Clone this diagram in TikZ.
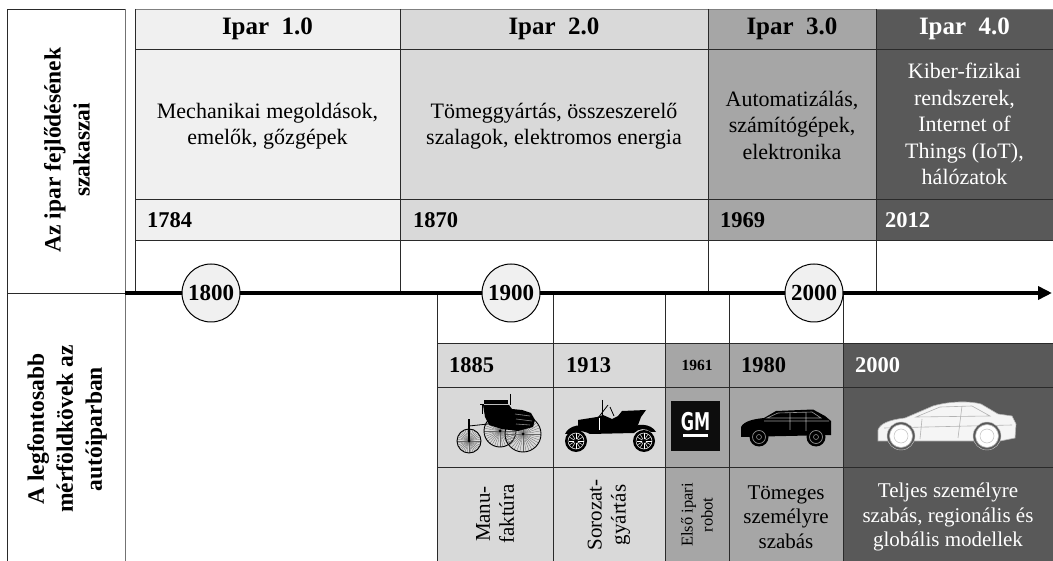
\documentclass[tikz,border=0pt]{standalone}
\usepackage{fontspec}
\setmainfont{Liberation Serif}
\newfontfamily\gmfont[FakeStretch=0.66]{DejaVu Sans}
\usetikzlibrary{arrows.meta}

\definecolor{g1}{HTML}{F0F0F0}
\definecolor{g2}{HTML}{D9D9D9}
\definecolor{g3}{HTML}{A6A6A6}
\definecolor{g4}{HTML}{595959}
\definecolor{rulec}{HTML}{2A2A2A}

\tikzset{
  gridline/.style={draw=rulec, line width=0.8pt},
  hd/.style={font=\fontsize{25}{30}\selectfont\bfseries, inner sep=0pt},
  ds/.style={font=\fontsize{22}{26.5}\selectfont, align=center, inner sep=0pt},
  yr/.style={font=\fontsize{22.5}{26}\selectfont\bfseries, anchor=west, inner sep=0pt},
  side/.style={font=\fontsize{23.5}{29}\selectfont\bfseries, align=center, rotate=90, inner sep=0pt},
  era/.style={circle, draw=black, line width=1pt, fill=g1, minimum size=58pt, inner sep=0pt,
              font=\fontsize{23}{26}\selectfont\bfseries},
  bt/.style={font=\fontsize{21}{24.5}\selectfont, align=center, inner sep=0pt},
  vt/.style={font=\fontsize{21}{24}\selectfont, align=center, rotate=90, inner sep=0pt},
  spoke/.style={line width=0.3pt},
}

\begin{document}
\begin{tikzpicture}[x=1pt,y=-1pt]
\useasboundingbox (0,0) rectangle (1053,561);

% ---------- cell fills: industrial eras ----------
\fill[g1] (135,9) rectangle (400,240);
\fill[g2] (400,9) rectangle (708,240);
\fill[g3] (708,9) rectangle (876,240);
\fill[g4] (876,9) rectangle (1053,240);

% ---------- cell fills: automotive milestones ----------
\fill[g2] (437,343) rectangle (665,561);
\fill[g3] (665,343) rectangle (843,561);
\fill[g4] (843,343) rectangle (1053,561);

% ---------- left label column ----------
\draw[gridline] (7,561) -- (7,9) -- (125,9);
\draw[draw=black!55, line width=0.8pt] (125,9) -- (125,561);
\draw[gridline] (7,293) -- (125,293);
\node[side] (lab1) at (67,150) {Az ipar fejlődésének\\szakaszai};
\node[side] (lab2) at (67,429) {A legfontosabb\\mérföldkövek az\\autóiparban};

% ---------- era table grid ----------
\draw[draw=black!50, line width=0.8pt] (135,9) -- (1053,9);
\draw[gridline] (135,9) -- (135,293);
\foreach \xx in {400,708,876} \draw[gridline] (\xx,9) -- (\xx,293);
\foreach \yy in {49,199,240} \draw[gridline] (135,\yy) -- (1053,\yy);

% ---------- milestone table grid ----------
\foreach \xx in {437,553,665,729,843} \draw[gridline] (\xx,293) -- (\xx,561);
\foreach \yy in {343,387,467} \draw[gridline] (437,\yy) -- (1053,\yy);

% ---------- era headers ----------
\node[hd] (h1) at (267.5,29) {Ipar\ \ 1.0};
\node[hd] (h2) at (554,29) {Ipar\ \ 2.0};
\node[hd] (h3) at (792,29) {Ipar\ \ 3.0};
\node[hd, text=white] (h4) at (964.5,29) {Ipar\ \ 4.0};

\node[ds] (d1) at (267.5,126) {Mechanikai megoldások,\\emelők, gőzgépek};
\node[ds] (d2) at (554,126) {Tömeggyártás, összeszerelő\\szalagok, elektromos energia};
\node[ds] (d3) at (792,125) {Automatizálás,\\számítógépek,\\elektronika};
\node[ds, text=white] (d4) at (964.5,124) {Kiber-fizikai\\rendszerek,\\Internet of\\Things (IoT),\\hálózatok};

\node[yr] (y1) at (147,220) {1784};
\node[yr] (y2) at (413,220) {1870};
\node[yr] (y3) at (720,220) {1969};
\node[yr, text=white] (y4) at (885,220) {2012};

% ---------- timeline ----------
\coordinate (axs) at (125,293);
\coordinate (axe) at (1052,293);
\draw[line width=4pt, -{Triangle[length=14pt,width=13pt]}] (axs) -- (axe);
\node[era] (c1800) at (211,293) {1800};
\node[era] (c1900) at (511,293) {1900};
\node[era] (c2000) at (814,293) {2000};

% ---------- milestone years ----------
\node[yr] (m1) at (449,365) {1885};
\node[yr] (m2) at (566,365) {1913};
\node[font=\fontsize{15.5}{18}\selectfont\bfseries, inner sep=0pt] (m3) at (697,365) {1961};
\node[yr] (m4) at (741,365) {1980};
\node[yr, text=white] (m5) at (855,365) {2000};

% ---------- milestone texts ----------
\node[vt] (t1) at (495,514) {Manu-\\faktúra};
\node[vt] (t2) at (609,515) {Sorozat-\\gyártás};
\node[font=\fontsize{16.5}{20}\selectfont, align=center, rotate=90, inner sep=0pt] (t3) at (697,515) {Első ipari\\robot};
\node[bt] (t4) at (786,517) {Tömeges\\személyre\\szabás};
\node[bt, text=white] (t5) at (948,517) {Teljes személyre\\szabás, regionális és\\globális modellek};

% ---------- icon: Benz motor car ----------
\begin{scope}
  \foreach \cx/\cy/\r in {469/441/12, 500/431/16, 523/434/18}{
    \foreach \a in {0,10,...,350} \draw[spoke, black!60] (\cx,\cy) -- ++(\a:\r);
    \draw[line width=0.9pt] (\cx,\cy) circle[radius=\r];
    \fill (\cx,\cy) circle[radius=1.5];
  }
  \fill (484,400) rectangle (508,404);
  \draw[line width=1pt] (510,394) -- (510,405);
  \draw[line width=0.8pt] (482,404) -- (482,414) (484,404) -- (480,404);
  \fill (483,405) -- (509,405) -- (512,409) -- (522,410) -- (531,413) -- (535,420)
        -- (533,427) -- (518,431) -- (502,429) -- (489,425) -- (485,417) -- cycle;
  \fill (490,410) rectangle (512,418);
  \draw[line width=0.6pt, black!45] (515,414) -- (530,416) (516,419) -- (532,421) (516,424) -- (530,425);
  \draw[line width=1.3pt] (469,441) -- (469,419);
  \draw[line width=0.8pt] (469,426) -- (488,424);
\end{scope}

% ---------- icon: Model T ----------
\begin{scope}
  \fill (565,434) .. controls (569,425) and (582,423) .. (591,428) -- (630,429)
        .. controls (636,423) and (651,423) .. (656,432) -- (651,432)
        .. controls (646,428) and (639,428) .. (634,433) -- (590,434)
        .. controls (583,430) and (572,430) .. (569,434) -- cycle;
  \fill (578,429) -- (578,420) -- (597,417) -- (603,415) -- (612,419) -- (618,416)
        -- (622,411) -- (646,410) -- (641,417) -- (638,425) -- (634,431) -- (590,431) -- cycle;
  \draw[line width=1pt] (602,400) -- (602,418);
  \draw[line width=0.8pt] (598,418) -- (608,405) (610,407) -- (614,416);
  \draw[white, line width=0.5pt] (599,418) -- (599,430);
  \foreach \cx in {576,644}{
    \fill (\cx,441) circle[radius=11];
    \foreach \a in {0,30,...,330} \draw[white, line width=0.5pt] (\cx,441) -- ++(\a:7.5);
    \draw[white, line width=0.5pt] (\cx,441) circle[radius=8];
    \fill (\cx,441) circle[radius=2];
  }
\end{scope}

% ---------- icon: GM logo ----------
\fill[black!95] (671,401) rectangle (720,451);
\node[text=white, font=\gmfont\bfseries\fontsize{24.5}{24}\selectfont, inner sep=0pt] (gm) at (695.5,421.5) {GM};
\fill[white] (683,434) rectangle (708,437.5);

% ---------- icon: hatchback ----------
\begin{scope}
  \fill (741,437) -- (741,427) .. controls (744,421) and (754,419) .. (764,418)
        -- (776,411) -- (813,409.5) -- (825,416) -- (831,421) -- (831,435) -- cycle;
  \draw[black!40, line width=0.6pt] (767,418) -- (778,413) -- (812,412) -- (821,418) -- cycle
        (790,413) -- (790,430) (806,412) -- (806,431) (764,421) -- (829,421);
  \foreach \cx in {759,816}{
    \fill (\cx,437) circle[radius=9.5];
    \draw[black!45, line width=0.7pt] (\cx,437) circle[radius=6.5];
    \draw[black!45, line width=0.6pt] (\cx,437) circle[radius=2.5];
  }
\end{scope}

% ---------- icon: modern coupe ----------
\begin{scope}
  \filldraw[fill=black!4, draw=black!30, line width=0.6pt]
        (878,441) -- (878,430) .. controls (880,424) and (888,420) .. (905,418)
        -- (933,406) .. controls (950,401) and (970,401) .. (981,404) -- (998,414)
        -- (1012,416) -- (1016,424) -- (1015,438) -- (1000,441) -- cycle;
  \draw[black!30, line width=0.6pt] (916,417) -- (940,407) -- (972,406) -- (990,416) -- cycle
        (962,406) -- (958,438) (922,419) -- (920,439) (884,428) -- (1012,425);
  \foreach \cx in {901,987}{
    \filldraw[fill=g4, draw=black!20] (\cx,436) circle[radius=14];
    \filldraw[fill=white, draw=black!30, line width=0.6pt] (\cx,436) circle[radius=11.5];
    \draw[black!25, line width=0.5pt] (\cx,436) circle[radius=7];
  }
\end{scope}

\end{tikzpicture}
\end{document}
